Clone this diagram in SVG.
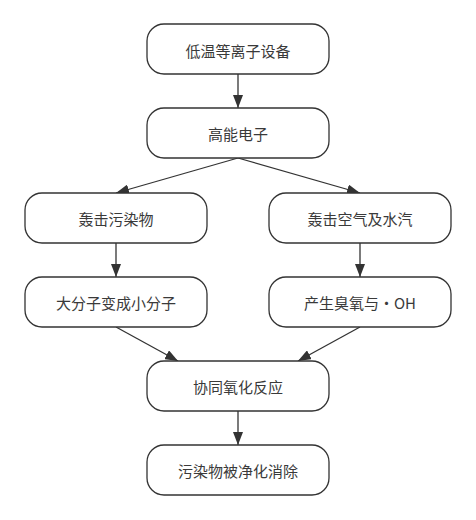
<svg xmlns="http://www.w3.org/2000/svg" width="476" height="520" viewBox="0 0 476 520">
<style>
.n rect{fill:#fff;stroke:#333;stroke-width:1.3}
.n text{font-family:"Noto Sans CJK SC","Noto Sans",sans-serif;font-size:15px;fill:#3a3a3a;text-anchor:middle;dominant-baseline:central}
.e line{stroke:#333;stroke-width:1.3;marker-end:url(#ah)}
</style>
<defs>
<marker id="ah" markerUnits="userSpaceOnUse" markerWidth="13" markerHeight="10" viewBox="0 0 13 10" refX="13" refY="5" orient="auto">
<path d="M0,0 L13,5 L0,10 z" fill="#333"/>
</marker>
</defs>
<rect width="476" height="520" fill="#fff"/>
<g id="edges" class="e">
<line x1="238" y1="74" x2="238" y2="108"/>
<line x1="238" y1="158" x2="116" y2="193"/>
<line x1="238" y1="158" x2="360" y2="193"/>
<line x1="116" y1="243" x2="116" y2="277"/>
<line x1="360" y1="243" x2="360" y2="277"/>
<line x1="116" y1="327" x2="178" y2="361"/>
<line x1="360" y1="327" x2="298" y2="361"/>
<line x1="238" y1="411" x2="238" y2="445"/>
</g>
<g id="n1" class="n"><rect x="147" y="24" width="182" height="50" rx="17" ry="17"/><text x="238" y="50">低温等离子设备</text></g>
<g id="n2" class="n"><rect x="147" y="108" width="182" height="50" rx="17" ry="17"/><text x="238" y="133">高能电子</text></g>
<g id="n3" class="n"><rect x="25" y="193" width="182" height="50" rx="17" ry="17"/><text x="116" y="218">轰击污染物</text></g>
<g id="n4" class="n"><rect x="269" y="193" width="182" height="50" rx="17" ry="17"/><text x="360" y="218">轰击空气及水汽</text></g>
<g id="n5" class="n"><rect x="25" y="277" width="182" height="50" rx="17" ry="17"/><text x="116" y="302">大分子变成小分子</text></g>
<g id="n6" class="n"><rect x="269" y="277" width="182" height="50" rx="17" ry="17"/><text x="360" y="302">产生臭氧与・OH</text></g>
<g id="n7" class="n"><rect x="147" y="361" width="182" height="50" rx="17" ry="17"/><text x="238" y="386">协同氧化反应</text></g>
<g id="n8" class="n"><rect x="147" y="445" width="182" height="50" rx="17" ry="17"/><text x="238" y="470">污染物被净化消除</text></g>
</svg>
